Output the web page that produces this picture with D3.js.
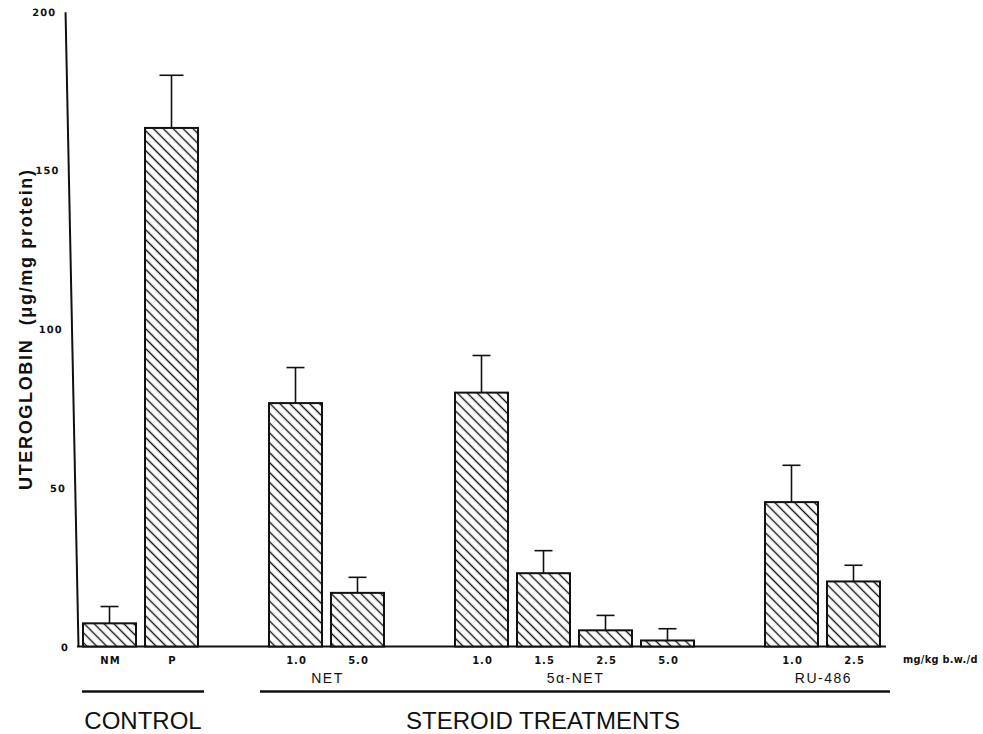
<!doctype html>
<html lang="en">
<head>
  <meta charset="utf-8">
  <title>Uteroglobin after steroid treatments</title>
  <style>
body {
  margin: 0;
  background: #fff;
}
svg text {
  font-family: "Liberation Sans", Arial, Helvetica, sans-serif;
  fill: #111;
}
.axis text,
.dose,
.unit {
  font-family: "DejaVu Sans", sans-serif;
  font-size: 10px;
  font-weight: bold;
  letter-spacing: 1px;
}
.unit {
  font-size: 9.8px;
  letter-spacing: 0.3px;
}
.axis path {
  stroke: #111;
  stroke-width: 2;
}
.group-label {
  font-size: 14px;
  letter-spacing: 1.5px;
}
.section-label {
  font-size: 24px;
}
.bar {
  stroke: #111;
  stroke-width: 2;
}
.err {
  stroke: #111;
  stroke-width: 1.6;
}
  </style>
</head>
<body>
  <script src="https://cdn.jsdelivr.net/npm/d3@7/dist/d3.min.js"></script>
  <script>
// values (mean and upper error, ug/mg protein)
var categories = ["NM", "P", "NET 1.0", "NET 5.0", "5a-NET 1.0", "5a-NET 1.5",
                  "5a-NET 2.5", "5a-NET 5.0", "RU-486 1.0", "RU-486 2.5"];
var doseLabels = ["NM", "P", "1.0", "5.0", "1.0", "1.5", "2.5", "5.0", "1.0", "2.5"];
var groupOf = [0, 0, 1, 1, 2, 2, 2, 2, 3, 3];
var groupNames = ["", "NET", "5\u03b1-NET", "RU-486"];
var sectionOf = [0, 1, 1, 1];
var sectionNames = ["CONTROL", "STEROID TREATMENTS"];
var means = [7.3, 163.4, 76.7, 16.9, 80.0, 23.1, 5.1, 1.9, 45.5, 20.5];
var errors = [5.3, 16.6, 11.2, 4.9, 11.7, 7.1, 4.7, 3.7, 11.6, 5.1];
var yTicks = [0, 50, 100, 150, 200];

var W = 983, H = 734;
var baseY = 646.5, topY = 11.8;
var x0 = 83, x1 = 880;

// one empty slot between groups
var slots = [];
categories.forEach(function(c, i) {
  if (i > 0 && groupOf[i] !== groupOf[i - 1]) slots.push("gap" + i);
  slots.push(c);
});

var x = d3.scaleBand()
    .domain(slots)
    .range([x0, x1])
    .paddingInner(0.145)
    .paddingOuter(0);

var y = d3.scaleLinear()
    .domain([0, 200])
    .range([baseY, topY]);

var svg = d3.select("body").append("svg")
    .attr("width", W)
    .attr("height", H);

// diagonal hatching like the printed figure
var pat = svg.append("defs").append("pattern")
    .attr("id", "hatch")
    .attr("patternUnits", "userSpaceOnUse")
    .attr("width", 7)
    .attr("height", 7)
    .attr("patternTransform", "rotate(45)");
pat.append("rect").attr("width", 7).attr("height", 7).attr("fill", "#fff");
pat.append("line")
    .attr("x1", 0).attr("y1", 3.5)
    .attr("x2", 7).attr("y2", 3.5)
    .attr("stroke", "#111")
    .attr("stroke-width", 1.4);

// y axis, drawn slightly slanted as in the scan
var axisG = svg.append("g")
    .attr("class", "axis")
    .attr("transform", "translate(78," + baseY + ") skewX(1.17)");
var yInner = d3.scaleLinear().domain([0, 200]).range([0, topY - baseY]);
axisG.call(d3.axisLeft(yInner)
    .tickValues(yTicks)
    .tickSize(0)
    .tickSizeOuter(0)
    .tickPadding(9)
    .tickFormat(d3.format("d")));
axisG.selectAll(".tick text").attr("dy", "0.35em");

// baseline
svg.append("line")
    .attr("x1", 77).attr("x2", 886)
    .attr("y1", baseY).attr("y2", baseY)
    .attr("stroke", "#111")
    .attr("stroke-width", 2);

svg.append("text")
    .attr("transform", "rotate(-90)")
    .attr("x", -330)
    .attr("y", 32)
    .attr("text-anchor", "middle")
    .attr("font-size", 18)
    .attr("font-weight", "bold")
    .attr("textLength", 320)
    .attr("lengthAdjust", "spacing")
    .text("UTEROGLOBIN\u00a0\u00a0(\u03bcg/mg protein)");

// bars
svg.selectAll(".bar")
    .data(categories)
    .enter().append("rect")
    .attr("class", "bar")
    .attr("x", function(d) { return x(d); })
    .attr("width", x.bandwidth())
    .attr("y", function(d, i) { return y(means[i]); })
    .attr("height", function(d, i) { return baseY - y(means[i]); })
    .attr("fill", "url(#hatch)");

// error bars (upper only)
var err = svg.selectAll(".errg")
    .data(categories)
    .enter().append("g")
    .attr("class", "errg");
err.append("line")
    .attr("class", "err")
    .attr("x1", function(d) { return x(d) + x.bandwidth() / 2; })
    .attr("x2", function(d) { return x(d) + x.bandwidth() / 2; })
    .attr("y1", function(d, i) { return y(means[i]); })
    .attr("y2", function(d, i) { return y(means[i] + errors[i]); });
err.append("line")
    .attr("class", "err")
    .attr("x1", function(d, i) { return x(d) + x.bandwidth() / 2 - (i === 1 ? 12 : 9); })
    .attr("x2", function(d, i) { return x(d) + x.bandwidth() / 2 + (i === 1 ? 12 : 9); })
    .attr("y1", function(d, i) { return y(means[i] + errors[i]); })
    .attr("y2", function(d, i) { return y(means[i] + errors[i]); });

// dose labels under bars
svg.selectAll(".dose")
    .data(categories)
    .enter().append("text")
    .attr("class", "dose")
    .attr("x", function(d) { return x(d) + x.bandwidth() / 2 + 1; })
    .attr("y", 664)
    .attr("text-anchor", "middle")
    .text(function(d, i) { return doseLabels[i]; });

svg.append("text")
    .attr("class", "unit")
    .attr("x", 903)
    .attr("y", 663)
    .text("mg/kg b.w./d");

function extent(idx) {
  var xs = idx.map(function(i) { return x(categories[i]); });
  return [d3.min(xs), d3.max(xs) + x.bandwidth()];
}

// group names (NET, 5a-NET, RU-486)
groupNames.forEach(function(name, g) {
  if (!name) return;
  var e = extent(d3.range(categories.length).filter(function(i) { return groupOf[i] === g; }));
  svg.append("text")
      .attr("class", "group-label")
      .attr("x", (e[0] + e[1]) / 2 + 1)
      .attr("y", 683)
      .attr("text-anchor", "middle")
      .text(name);
});

// section underlines and names
sectionNames.forEach(function(name, s) {
  var e = extent(d3.range(categories.length).filter(function(i) { return sectionOf[groupOf[i]] === s; }));
  var lx0 = e[0] - (s === 0 ? 1 : 9), lx1 = e[1] + (s === 0 ? 6 : 10);
  svg.append("line")
      .attr("x1", lx0).attr("x2", lx1)
      .attr("y1", 691.5).attr("y2", 691.5)
      .attr("stroke", "#111")
      .attr("stroke-width", 2.5);
  svg.append("text")
      .attr("class", "section-label")
      .attr("x", s === 0 ? (lx0 + lx1) / 2 : (lx0 + lx1) / 2 - 32)
      .attr("y", 729)
      .attr("text-anchor", "middle")
      .text(name);
});
  </script>
</body>
</html>
